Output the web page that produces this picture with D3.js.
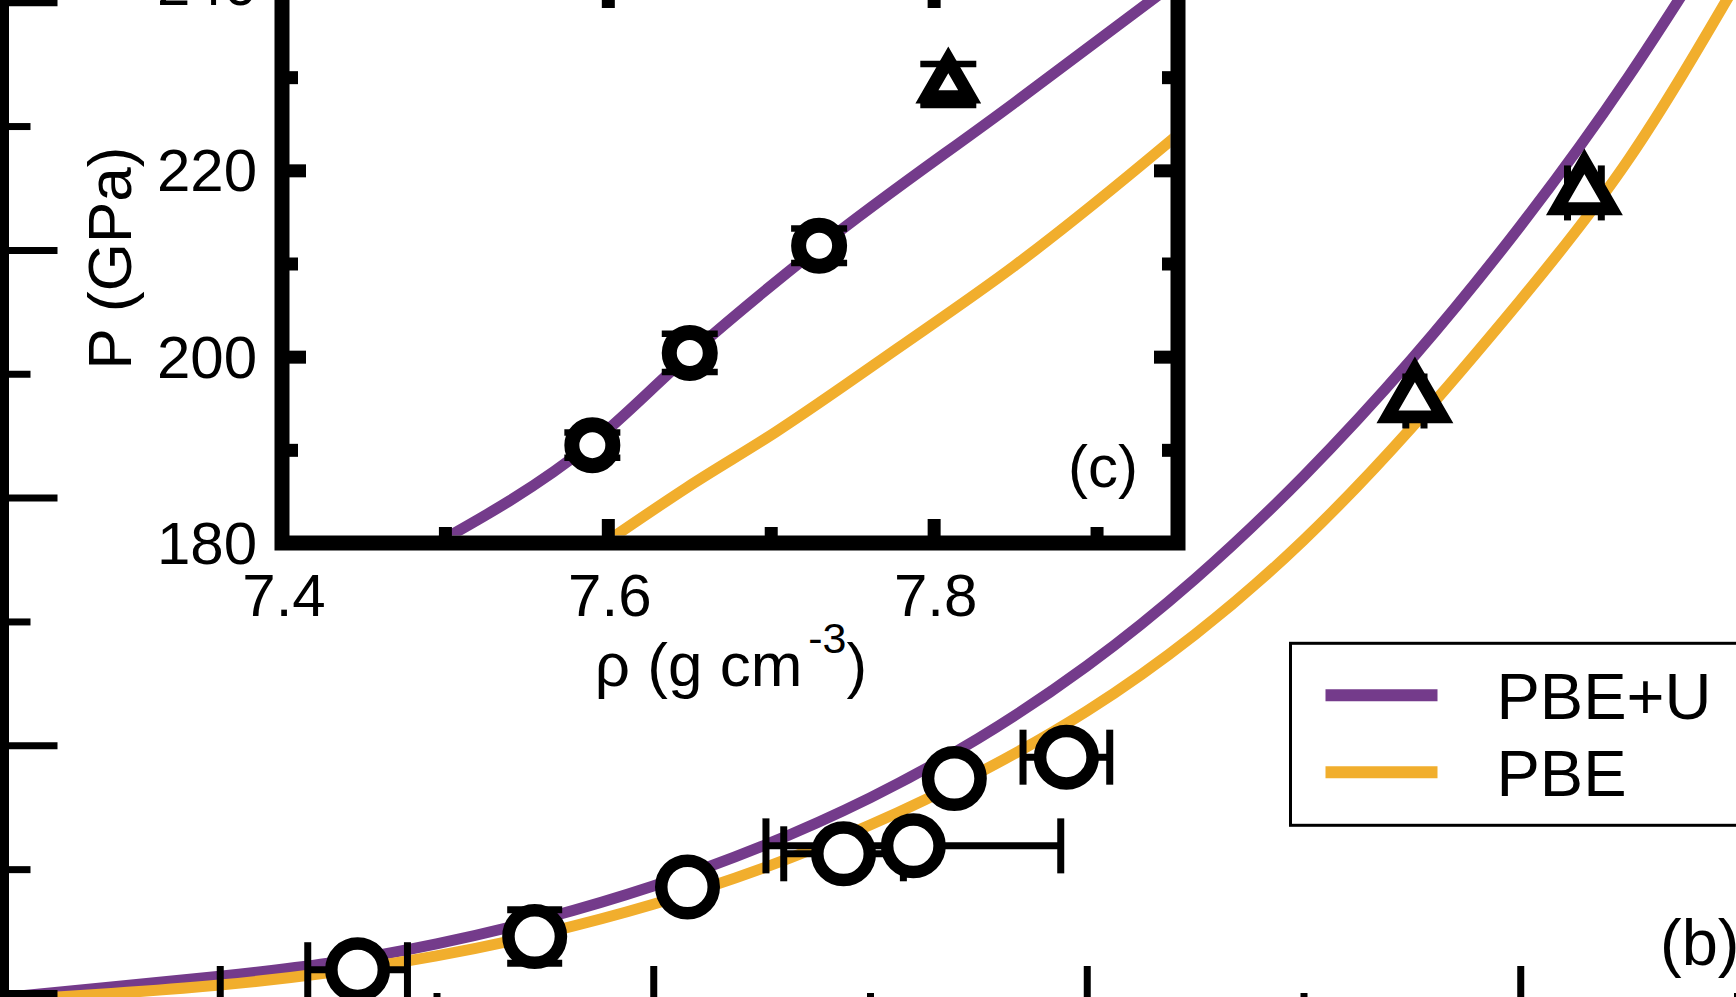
<!DOCTYPE html>
<html>
<head>
<meta charset="utf-8">
<script src="https://cdn.jsdelivr.net/npm/d3@7"></script>
<style>
  html, body { margin: 0; padding: 0; background: #fff; overflow: hidden; }
  text { font-family: "Liberation Sans", Arial, Helvetica, sans-serif; fill: #000; }
</style>
</head>
<body>
<script>
// ---------------- DATA ----------------
// main panel (b): density (g/cm^3) vs pressure (GPa)
const mainXMajor = [5, 6, 7, 8];
const mainXMinor = [4.5, 5.5, 6.5, 7.5, 8.5];
const mainYMajor = [0, 50, 100, 150, 200];
const mainYMinor = [25, 75, 125, 175];

const mainPbeURho = [4.5, 4.75, 5.0, 5.25, 5.5, 5.75, 6.0, 6.25, 6.5, 6.75, 7.0, 7.25, 7.5, 7.75, 8.0, 8.25, 8.5];
const mainPbeUP   = [-0.9, 1.2, 3.4, 6.0, 9.9, 15.1, 21.6, 29.6, 39.4, 51.4, 66.0, 83.6, 104.3, 128.0, 154.8, 185.0, 219.0];
const mainPbeRho  = [4.5, 4.75, 5.0, 5.25, 5.5, 5.75, 6.0, 6.25, 6.5, 6.75, 7.0, 7.25, 7.5, 7.75, 8.0, 8.25, 8.5];
const mainPbeP    = [-1.5, -0.1, 1.6, 4.1, 7.5, 12.1, 17.9, 25.1, 33.9, 44.4, 56.9, 72.4, 91.4, 114.2, 139.8, 168.3, 204.0];

const mainCircRho    = [5.318, 5.7265, 6.079, 6.439, 6.600, 6.6945, 6.953];
const mainCircP      = [4.7, 11.4, 21.4, 28.1, 29.7, 43.3, 47.6];
const mainCircRhoErr = [0.115, 0, 0, 0.138, 0.34, 0, 0.10];
const mainCircPErr   = [0, 5.4, 0, 0, 0, 0, 0];

const mainTriRho    = [7.757, 8.148];
const mainTriP      = [119.5, 161.5];
const mainTriRhoErr = [0.021, 0.039];

// inset panel (c)
const inXMajor = [7.4, 7.6, 7.8];
const inXMinor = [7.5, 7.7, 7.9];
const inYMajor = [180, 200, 220, 240];
const inYMinor = [190, 210, 230];

const inPbeURho = [7.49, 7.59, 7.65, 7.73, 7.85, 7.97];
const inPbeUP   = [179.5, 190.7, 200.2, 211.8, 227.3, 243.0];
const inPbeRho  = [7.598, 7.649, 7.703, 7.778, 7.85, 7.947, 7.97];
const inPbeP    = [180.0, 186.0, 191.9, 200.9, 209.8, 223.4, 226.8];

const inCircRho  = [7.5905, 7.6503, 7.7297];
const inCircP    = [190.5, 200.4, 211.9];
const inCircPErr = [1.35, 2.05, 1.85];

const inTriRho  = [7.809];
const inTriP    = [229.2];
const inTriPErr = [2.2];

const seriesNames  = ["PBE+U", "PBE"];
const seriesColors = ["#743b8b", "#f1ae2d"];

// ---------------- DRAW ----------------
const W = 1736, H = 997;
const svg = d3.select("body").append("svg")
  .attr("width", W).attr("height", H)
  .style("display", "block");
svg.append("rect").attr("width", W).attr("height", H).attr("fill", "#fff");

// ---- main panel ----
const xMain = d3.scaleLinear().domain([4.5, 8.5]).range([3, 1737]);
const yMain = d3.scaleLinear().domain([0, 200]).range([993, 2.2]);
const mainLine = d3.line().x(d => xMain(d[0])).y(d => yMain(d[1])).curve(d3.curveNatural);

const gMain = svg.append("g");
[[mainPbeURho, mainPbeUP], [mainPbeRho, mainPbeP]].forEach((s, i) => {
  gMain.append("path")
    .datum(d3.zip(s[0], s[1]))
    .attr("d", mainLine)
    .attr("fill", "none")
    .attr("stroke", seriesColors[i])
    .attr("stroke-width", 11)
    .attr("stroke-linejoin", "round");
});

// error bars (main)
const capM = 27.5;
const gErrM = gMain.append("g").attr("stroke", "#000").attr("stroke-width", 7);
mainCircRho.forEach((r, i) => {
  const cx = xMain(r), cy = yMain(mainCircP[i]);
  const ex = mainCircRhoErr[i], ey = mainCircPErr[i];
  if (ex > 0) {
    const x0 = xMain(r - ex), x1 = xMain(r + ex);
    gErrM.append("line").attr("x1", x0).attr("x2", x1).attr("y1", cy).attr("y2", cy);
    gErrM.append("line").attr("x1", x0).attr("x2", x0).attr("y1", cy - capM).attr("y2", cy + capM);
    gErrM.append("line").attr("x1", x1).attr("x2", x1).attr("y1", cy - capM).attr("y2", cy + capM);
  }
  if (ey > 0) {
    const y0 = yMain(mainCircP[i] - ey), y1 = yMain(mainCircP[i] + ey);
    gErrM.append("line").attr("x1", cx).attr("x2", cx).attr("y1", y0).attr("y2", y1);
    gErrM.append("line").attr("x1", cx - capM).attr("x2", cx + capM).attr("y1", y0).attr("y2", y0);
    gErrM.append("line").attr("x1", cx - capM).attr("x2", cx + capM).attr("y1", y1).attr("y2", y1);
  }
});
mainTriRho.forEach((r, i) => {
  const cy = yMain(mainTriP[i]);
  const x0 = xMain(r - mainTriRhoErr[i]), x1 = xMain(r + mainTriRhoErr[i]);
  gErrM.append("line").attr("x1", x0).attr("x2", x1).attr("y1", cy).attr("y2", cy);
  gErrM.append("line").attr("x1", x0).attr("x2", x0).attr("y1", cy - capM).attr("y2", cy + capM);
  gErrM.append("line").attr("x1", x1).attr("x2", x1).attr("y1", cy - capM).attr("y2", cy + capM);
});

function triPath(r) {
  const s = Math.sqrt(3) * r;
  return `M0,${-2 * r}L${s},${r}L${-s},${r}Z`;
}

// points (main)
gMain.selectAll("circle.mc").data(d3.range(mainCircRho.length)).enter()
  .append("circle")
  .attr("cx", i => xMain(mainCircRho[i]))
  .attr("cy", i => yMain(mainCircP[i]))
  .attr("r", 26.25)
  .attr("fill", "#fff").attr("stroke", "#000").attr("stroke-width", 12.5);
gMain.selectAll("path.mt").data(d3.range(mainTriRho.length)).enter()
  .append("path")
  .attr("transform", i => `translate(${xMain(mainTriRho[i])},${yMain(mainTriP[i])})`)
  .attr("d", triPath(15.8))
  .attr("fill", "#fff").attr("stroke", "#000").attr("stroke-width", 12.8)
  .attr("stroke-linejoin", "miter");

// main axes
const mainAxisX = xMain(4.5) + 1.5;
const mainAxisY = yMain(-5.25);
function styleTicks(g, w) {
  g.select(".domain").remove();
  g.selectAll("line").attr("stroke", "#000").attr("stroke-width", w);
  g.selectAll("text").remove();
}
svg.append("g").attr("transform", `translate(${mainAxisX},0)`)
  .call(d3.axisLeft(yMain).tickValues(mainYMajor).tickSize(-53).tickSizeOuter(0)).call(styleTicks, 7);
svg.append("g").attr("transform", `translate(${mainAxisX},0)`)
  .call(d3.axisLeft(yMain).tickValues(mainYMinor).tickSize(-26).tickSizeOuter(0)).call(styleTicks, 7);
svg.append("g").attr("transform", `translate(0,${mainAxisY})`)
  .call(d3.axisBottom(xMain).tickValues(mainXMajor).tickSize(-53).tickSizeOuter(0)).call(styleTicks, 7);
svg.append("g").attr("transform", `translate(0,${mainAxisY})`)
  .call(d3.axisBottom(xMain).tickValues(mainXMinor).tickSize(-26).tickSizeOuter(0)).call(styleTicks, 7);
svg.append("line").attr("x1", mainAxisX).attr("x2", mainAxisX)
  .attr("y1", yMain(210)).attr("y2", mainAxisY).attr("stroke", "#000").attr("stroke-width", 9);
svg.append("line").attr("x1", mainAxisX).attr("x2", xMain(8.6))
  .attr("y1", mainAxisY).attr("y2", mainAxisY).attr("stroke", "#000").attr("stroke-width", 9);

// panel label (b)
svg.append("text").attr("x", 1660).attr("y", 965).attr("font-size", 65).text("(b)");

// legend
const legX = 1290.5, legY = 643.3;
svg.append("rect").attr("x", legX).attr("y", legY).attr("width", 460).attr("height", 182)
  .attr("fill", "#fff").attr("stroke", "#000").attr("stroke-width", 3);
seriesNames.forEach((n, i) => {
  const yy = legY + 52 + i * 77;
  svg.append("line").attr("x1", legX + 35).attr("x2", legX + 147)
    .attr("y1", yy).attr("y2", yy)
    .attr("stroke", seriesColors[i]).attr("stroke-width", 12);
  svg.append("text").attr("x", legX + 206).attr("y", yy + 24).attr("font-size", 65).text(n);
});

// ---- inset panel (c) ----
const xIn = d3.scaleLinear().domain([7.4, 7.95]).range([282, 1178]);
const yIn = d3.scaleLinear().domain([180, 240]).range([543, -16]);
const gIn = svg.append("g");
gIn.append("rect").attr("x", xIn(7.4)).attr("y", yIn(240))
  .attr("width", xIn(7.95) - xIn(7.4)).attr("height", yIn(180) - yIn(240))
  .attr("fill", "#fff");
svg.append("clipPath").attr("id", "inclip").append("rect")
  .attr("x", xIn(7.4) + 7.5).attr("y", yIn(240) + 7.5)
  .attr("width", xIn(7.95) - xIn(7.4) - 15).attr("height", yIn(180) - yIn(240) - 15);

const inLine = d3.line().x(d => xIn(d[0])).y(d => yIn(d[1])).curve(d3.curveMonotoneX);
const gInData = gIn.append("g").attr("clip-path", "url(#inclip)");
[[inPbeURho, inPbeUP], [inPbeRho, inPbeP]].forEach((s, i) => {
  gInData.append("path")
    .datum(d3.zip(s[0], s[1]))
    .attr("d", inLine)
    .attr("fill", "none")
    .attr("stroke", seriesColors[i])
    .attr("stroke-width", 11)
    .attr("stroke-linejoin", "round");
});

const capI = 28;
const gErrI = gInData.append("g").attr("stroke", "#000").attr("stroke-width", 6.5);
function inYErr(rho, p, e) {
  const cx = xIn(rho), y0 = yIn(p - e), y1 = yIn(p + e);
  gErrI.append("line").attr("x1", cx).attr("x2", cx).attr("y1", y0).attr("y2", y1);
  gErrI.append("line").attr("x1", cx - capI).attr("x2", cx + capI).attr("y1", y0).attr("y2", y0);
  gErrI.append("line").attr("x1", cx - capI).attr("x2", cx + capI).attr("y1", y1).attr("y2", y1);
}
inCircRho.forEach((r, i) => inYErr(r, inCircP[i], inCircPErr[i]));
inTriRho.forEach((r, i) => inYErr(r, inTriP[i], inTriPErr[i]));

gInData.selectAll("circle.ic").data(d3.range(inCircRho.length)).enter()
  .append("circle")
  .attr("cx", i => xIn(inCircRho[i]))
  .attr("cy", i => yIn(inCircP[i]))
  .attr("r", 20.5)
  .attr("fill", "#fff").attr("stroke", "#000").attr("stroke-width", 15);
gInData.selectAll("path.it").data(d3.range(inTriRho.length)).enter()
  .append("path")
  .attr("transform", i => `translate(${xIn(inTriRho[i])},${yIn(inTriP[i])})`)
  .attr("d", triPath(12.35))
  .attr("fill", "#fff").attr("stroke", "#000").attr("stroke-width", 13.3)
  .attr("stroke-linejoin", "miter");

// inset ticks
const inTickW = 13;
function addInAxis(axisFn, scale, vals, len, tx, ty) {
  gIn.append("g").attr("transform", `translate(${tx},${ty})`)
    .call(axisFn(scale).tickValues(vals).tickSize(-len).tickSizeOuter(0))
    .call(styleTicks, inTickW);
}
[[inYMajor, 24], [inYMinor, 16]].forEach(([v, l]) => {
  addInAxis(d3.axisLeft, yIn, v, l, xIn(7.4), 0);
  addInAxis(d3.axisRight, yIn, v, l, xIn(7.95), 0);
});
[[inXMajor, 24], [inXMinor, 16]].forEach(([v, l]) => {
  addInAxis(d3.axisBottom, xIn, v, l, 0, yIn(180));
  addInAxis(d3.axisTop, xIn, v, l, 0, yIn(240));
});
// inset frame
gIn.append("rect").attr("x", xIn(7.4)).attr("y", yIn(240))
  .attr("width", xIn(7.95) - xIn(7.4)).attr("height", yIn(180) - yIn(240))
  .attr("fill", "none").attr("stroke", "#000").attr("stroke-width", 15);

// inset tick labels
inYMajor.forEach(v => {
  gIn.append("text").attr("x", xIn(7.4) - 25).attr("y", yIn(v) + 21)
    .attr("text-anchor", "end").attr("font-size", 60).text(v);
});
inXMajor.forEach(v => {
  gIn.append("text").attr("x", xIn(v) + 2).attr("y", yIn(180) + 73)
    .attr("text-anchor", "middle").attr("font-size", 60).text(d3.format(".1f")(v));
});
// inset axis titles
const xt = gIn.append("text").attr("x", 731).attr("y", 686).attr("text-anchor", "middle").attr("font-size", 62);
xt.append("tspan").text("ρ (g cm");
xt.append("tspan").attr("dy", -33).attr("dx", 6).attr("font-size", 43).text("-3");
xt.append("tspan").attr("dy", 33).text(")");
gIn.append("text").attr("transform", "translate(131,258) rotate(-90)")
  .attr("text-anchor", "middle").attr("font-size", 62).text("P (GPa)");
gIn.append("text").attr("x", 1068).attr("y", 487).attr("font-size", 60).text("(c)");
</script>
</body>
</html>
